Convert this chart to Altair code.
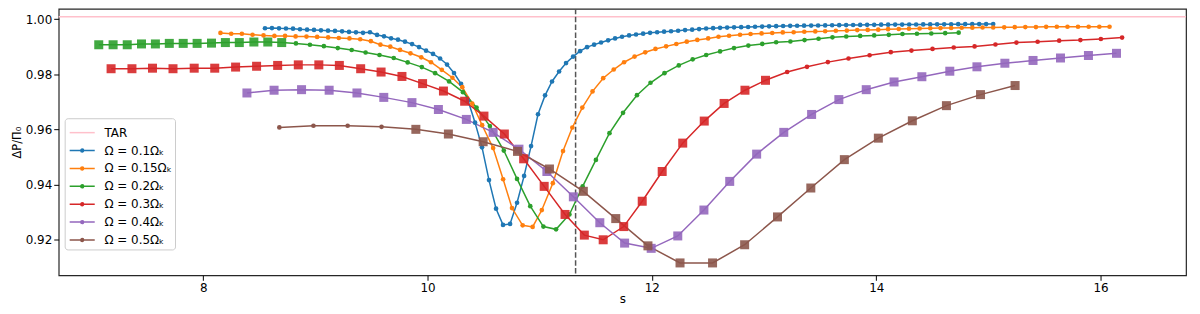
import altair as alt
import pandas as pd

# ---------------- data ----------------
series_names = ["Ω = 0.1Ωₖ", "Ω = 0.15Ωₖ", "Ω = 0.2Ωₖ", "Ω = 0.3Ωₖ", "Ω = 0.4Ωₖ", "Ω = 0.5Ωₖ"]
series_colors = ["#1f77b4", "#ff7f0e", "#2ca02c", "#d62728", "#9467bd", "#8c564b"]
tar_label = "TAR"
tar_value = 1.0009
tar_color = "#ffc0cb"
dashed_s = 11.32

blue_s = [8.551, 8.613, 8.676, 8.738, 8.801, 8.863, 8.926, 8.988, 9.050, 9.113, 9.175, 9.238, 9.300, 9.362,
          9.425, 9.487, 9.550, 9.612, 9.675, 9.737, 9.799, 9.862, 9.924, 9.987, 10.049, 10.112, 10.174,
          10.236, 10.299, 10.361, 10.424, 10.486, 10.548, 10.611, 10.673, 10.736, 10.798, 10.861, 10.923,
          10.985, 11.048, 11.110, 11.173, 11.235, 11.298, 11.360, 11.422, 11.485, 11.547, 11.610, 11.672,
          11.734, 11.797, 11.859, 11.922, 11.984, 12.047, 12.109, 12.171, 12.234, 12.296, 12.359, 12.421,
          12.484, 12.546, 12.608, 12.671, 12.733, 12.796, 12.858, 12.920, 12.983, 13.045, 13.108, 13.170,
          13.233, 13.295, 13.357, 13.420, 13.482, 13.545, 13.607, 13.670, 13.732, 13.794, 13.857, 13.919,
          13.982, 14.044, 14.106, 14.169, 14.231, 14.294, 14.356, 14.419, 14.481, 14.543, 14.606, 14.668,
          14.731, 14.793, 14.856, 14.918, 14.980, 15.043]
blue_y = [0.99669, 0.99676, 0.99666, 0.99662, 0.99655, 0.99633, 0.99619, 0.99608, 0.99593, 0.99583, 0.99572,
          0.99557, 0.99536, 0.99521, 0.99503, 0.99525, 0.99427, 0.99377, 0.99305, 0.99254, 0.99182, 0.99095,
          0.98987, 0.98857, 0.98738, 0.98572, 0.98352, 0.98045, 0.97648, 0.97046, 0.96241, 0.95346, 0.94158,
          0.93119, 0.92531, 0.92567, 0.93336, 0.94310, 0.95393, 0.96548, 0.97233, 0.97738, 0.98099, 0.98406,
          0.98641, 0.98839, 0.98983, 0.99074, 0.99153, 0.99232, 0.99301, 0.99362, 0.99409, 0.99442, 0.99474,
          0.99503, 0.99525, 0.99546, 0.99561, 0.99579, 0.99604, 0.99619, 0.99640, 0.99662, 0.99673, 0.99684,
          0.99694, 0.99702, 0.99709, 0.99716, 0.99723, 0.99730, 0.99738, 0.99745, 0.99752, 0.99756, 0.99759,
          0.99763, 0.99767, 0.99770, 0.99774, 0.99777, 0.99781, 0.99785, 0.99788, 0.99792, 0.99795, 0.99795,
          0.99799, 0.99799, 0.99803, 0.99803, 0.99806, 0.99806, 0.99810, 0.99810, 0.99813, 0.99813, 0.99813,
          0.99817, 0.99817, 0.99817, 0.99821, 0.99821, 0.99821]

orange_s = [8.154, 8.250, 8.345, 8.440, 8.538, 8.635, 8.730, 8.824, 8.921, 9.016, 9.114, 9.209, 9.304, 9.400,
            9.495, 9.580, 9.668, 9.755, 9.848, 9.944, 10.031, 10.127, 10.222, 10.310, 10.399, 10.487, 10.585,
            10.674, 10.753, 10.848, 10.937, 11.019, 11.117, 11.208, 11.291, 11.380, 11.471, 11.566, 11.660,
            11.752, 11.846, 11.941, 12.032, 12.127, 12.218, 12.311, 12.405, 12.502, 12.594, 12.688, 12.786,
            12.880, 12.978, 13.073, 13.167, 13.264, 13.359, 13.457, 13.545, 13.640, 13.738, 13.831, 13.924,
            14.018, 14.106, 14.201, 14.292, 14.387, 14.482, 14.573, 14.668, 14.762, 14.857, 14.948, 15.043,
            15.141, 15.235, 15.329, 15.424, 15.515, 15.610, 15.705, 15.799, 15.894, 15.989, 16.080]
orange_y = [0.99500, 0.99471, 0.99471, 0.99435, 0.99409, 0.99391, 0.99391, 0.99373, 0.99366, 0.99355, 0.99337,
            0.99316, 0.99301, 0.99269, 0.99200, 0.99074, 0.99001, 0.98882, 0.98760, 0.98615, 0.98435, 0.98160,
            0.97872, 0.97532, 0.96933, 0.96150, 0.95319, 0.94189, 0.93142, 0.92514, 0.92457, 0.93070, 0.94045,
            0.95211, 0.96067, 0.96789, 0.97377, 0.97857, 0.98171, 0.98435, 0.98640, 0.98796, 0.98918, 0.99012,
            0.99099, 0.99182, 0.99247, 0.99301, 0.99362, 0.99398, 0.99435, 0.99460, 0.99482, 0.99496, 0.99518,
            0.99525, 0.99543, 0.99554, 0.99561, 0.99579, 0.99586, 0.99604, 0.99608, 0.99619, 0.99637, 0.99644,
            0.99651, 0.99662, 0.99669, 0.99677, 0.99680, 0.99687, 0.99691, 0.99698, 0.99698, 0.99702, 0.99709,
            0.99713, 0.99713, 0.99720, 0.99723, 0.99723, 0.99723, 0.99723, 0.99723, 0.99723]

green_s = [7.069, 7.197, 7.323, 7.450, 7.574, 7.698, 7.822, 7.946, 8.074, 8.198, 8.322, 8.452, 8.576, 8.700,
           8.827, 8.952, 9.076, 9.200, 9.324, 9.448, 9.572, 9.699, 9.823, 9.949, 10.068, 10.192, 10.316,
           10.437, 10.556, 10.680, 10.798, 10.916, 11.033, 11.146, 11.265, 11.383, 11.501, 11.622, 11.743,
           11.867, 11.988, 12.112, 12.240, 12.364, 12.484, 12.608, 12.732, 12.860, 12.984, 13.108, 13.235,
           13.361, 13.486, 13.610, 13.733, 13.857, 13.982, 14.112, 14.234, 14.363, 14.491, 14.615, 14.735]
green_y = [0.9907, 0.9907, 0.9907, 0.9910, 0.9910, 0.9912, 0.9912, 0.9912, 0.9913, 0.9915, 0.9915, 0.9917,
           0.9917, 0.9915, 0.9912, 0.9907, 0.9902, 0.9895, 0.9888, 0.9879, 0.9870, 0.9859, 0.9843, 0.9826,
           0.9804, 0.9774, 0.9735, 0.9679, 0.9612, 0.9523, 0.9420, 0.9321, 0.9247, 0.9237, 0.9291, 0.9393,
           0.9489, 0.9586, 0.9660, 0.9724, 0.9769, 0.9804, 0.9832, 0.9854, 0.9870, 0.9883, 0.9895, 0.9904,
           0.9910, 0.9916, 0.9919, 0.9924, 0.9929, 0.9934, 0.9937, 0.9939, 0.9941, 0.9943, 0.9946, 0.9947,
           0.9948, 0.9949, 0.9951]

red_s = [7.179, 7.365, 7.548, 7.731, 7.920, 8.103, 8.289, 8.476, 8.664, 8.848, 9.031, 9.214, 9.404, 9.586,
         9.772, 9.956, 10.142, 10.331, 10.503, 10.685, 10.857, 11.040, 11.226, 11.398, 11.566, 11.749, 11.914,
         12.092, 12.275, 12.467, 12.644, 12.830, 13.013, 13.206, 13.383, 13.569, 13.753, 13.941, 14.130,
         14.314, 14.502, 14.691, 14.877, 15.063, 15.250, 15.439, 15.631, 15.820, 16.003, 16.192]
red_y = [0.9820, 0.9820, 0.9822, 0.9820, 0.9822, 0.9822, 0.9826, 0.9829, 0.9832, 0.9834, 0.9834, 0.9832,
         0.9820, 0.9808, 0.9792, 0.9766, 0.9739, 0.9702, 0.9648, 0.9583, 0.9493, 0.9393, 0.9291, 0.9216,
         0.9199, 0.9247, 0.9339, 0.9447, 0.9550, 0.9630, 0.9694, 0.9742, 0.9778, 0.9808, 0.9827, 0.9844,
         0.9857, 0.9869, 0.9880, 0.9886, 0.9892, 0.9897, 0.9901, 0.9908, 0.9915, 0.9918, 0.9922, 0.9924,
         0.9928, 0.9933]

purple_s = [8.390, 8.632, 8.877, 9.123, 9.371, 9.610, 9.861, 10.097, 10.346, 10.585, 10.815, 11.064, 11.300,
            11.536, 11.757, 11.994, 12.231, 12.464, 12.694, 12.934, 13.176, 13.424, 13.667, 13.911, 14.159,
            14.407, 14.656, 14.898, 15.147, 15.398, 15.643, 15.892, 16.142]
purple_y = [0.9732, 0.9742, 0.9744, 0.9742, 0.9732, 0.9716, 0.9697, 0.9672, 0.9636, 0.9589, 0.9528, 0.9447,
            0.9355, 0.9261, 0.9187, 0.9168, 0.9213, 0.9307, 0.9411, 0.9510, 0.9589, 0.9654, 0.9708, 0.9744,
            0.9772, 0.9791, 0.9811, 0.9827, 0.9840, 0.9850, 0.9859, 0.9868, 0.9876]

brown_s = [8.679, 8.983, 9.288, 9.590, 9.896, 10.186, 10.496, 10.802, 11.087, 11.389, 11.678, 11.965, 12.251,
           12.541, 12.827, 13.120, 13.417, 13.716, 14.019, 14.322, 14.626, 14.930, 15.238]
brown_y = [0.9607, 0.9613, 0.9613, 0.9609, 0.9600, 0.9583, 0.9555, 0.9520, 0.9456, 0.9375, 0.9276, 0.9177,
           0.9115, 0.9115, 0.9181, 0.9282, 0.9387, 0.9490, 0.9568, 0.9631, 0.9686, 0.9726, 0.9759]

# index ranges [start, stop) of the points drawn with a square marker
square_ranges = [(0, 0), (0, 0), (0, 14), (0, 33), (0, 33), (4, 23)]

all_s = [blue_s, orange_s, green_s, red_s, purple_s, brown_s]
all_y = [blue_y, orange_y, green_y, red_y, purple_y, brown_y]

rows = []
for name, col, xs, ys, (a, b) in zip(series_names, series_colors, all_s, all_y, square_ranges):
    for i, (sv, yv) in enumerate(zip(xs, ys)):
        rows.append({"series": name, "color": col, "s": sv, "y": yv,
                     "marker": "square" if a <= i < b else "dot"})
df = pd.DataFrame(rows)

legend_order = [tar_label] + series_names
legend_colors = [tar_color] + series_colors
line_path = "M-0.9,0H1.5"
dot_path = "M-0.9,0H1.5M0.16,0A0.14,0.14,0,1,1,0.44,0A0.14,0.14,0,1,1,0.16,0Z"
legend_shapes = [line_path] + [dot_path] * len(series_names)
legend_df = pd.DataFrame({
    "series": legend_order,
    "s": [red_s[0]] + [xs[0] for xs in all_s],
    "y": [tar_value] + [ys[0] for ys in all_y],
})

# ---------------- chart ----------------
xscale = alt.Scale(domain=[6.712, 16.762], nice=False, zero=False)
yscale = alt.Scale(domain=[0.90701, 1.00373], nice=False, zero=False)
X = alt.X("s:Q", scale=xscale, axis=alt.Axis(values=[8, 10, 12, 14, 16], format="d", title="s"))
Y = alt.Y("y:Q", scale=yscale,
          axis=alt.Axis(values=[0.92, 0.94, 0.96, 0.98, 1.0], format=".2f", title="ΔP/Π₀"))

tar = alt.Chart(pd.DataFrame({"y": [tar_value]})).mark_rule(
    color=tar_color, strokeWidth=1.5).encode(y=Y)

vline = alt.Chart(pd.DataFrame({"s": [dashed_s]})).mark_rule(
    color="#555555", strokeWidth=1.5, strokeDash=[5.5, 2.4]).encode(x=X)

base = alt.Chart(df)
lines = base.mark_line(strokeWidth=1.5).encode(
    x=X, y=Y, color=alt.Color("color:N", scale=None), detail="series:N")
dots = base.transform_filter("datum.marker == 'dot'").mark_circle(size=22, opacity=1).encode(
    x=X, y=Y, color=alt.Color("color:N", scale=None))
squares = base.transform_filter("datum.marker == 'square'").mark_square(size=82, opacity=0.9).encode(
    x=X, y=Y, color=alt.Color("color:N", scale=None))

leg = alt.Legend(title=None, orient="none", legendX=6, legendY=110, padding=3, rowPadding=0,
                 symbolSize=441, symbolStrokeWidth=1.5, labelOffset=14, labelFontSize=12,
                 labelFont="DejaVu Sans", labelColor="black", labelLimit=300,
                 strokeColor="#cccccc", fillColor="rgba(255,255,255,0.8)", cornerRadius=3)
legend_layer = alt.Chart(legend_df).mark_point(opacity=0, filled=False, strokeWidth=1.5, size=441).encode(
    x=X, y=Y,
    color=alt.Color("series:N", scale=alt.Scale(domain=legend_order, range=legend_colors), legend=leg),
    shape=alt.Shape("series:N", scale=alt.Scale(domain=legend_order, range=legend_shapes), legend=leg),
)

chart = alt.layer(tar, vline, lines, dots, squares, legend_layer).properties(
    width=1134, height=268,
    autosize=alt.AutoSizeParams(type="none"),
    padding={"left": 51, "top": 0, "right": 6, "bottom": 30},
).configure(font="DejaVu Sans").configure_view(
    stroke="#262626", strokeWidth=1.2
).configure_axis(
    domain=False, grid=False, tickColor="black", tickSize=5, tickWidth=1,
    labelFontSize=12, labelColor="black", labelFont="DejaVu Sans", labelPadding=2,
    titleFont="DejaVu Sans", titleFontSize=12, titleFontWeight="normal", titleColor="black",
).configure_axisX(titlePadding=0).configure_axisY(titlePadding=3, titleFontSize=11.5)

chart.save("out.html", embed_options={"renderer": "svg", "actions": False})
